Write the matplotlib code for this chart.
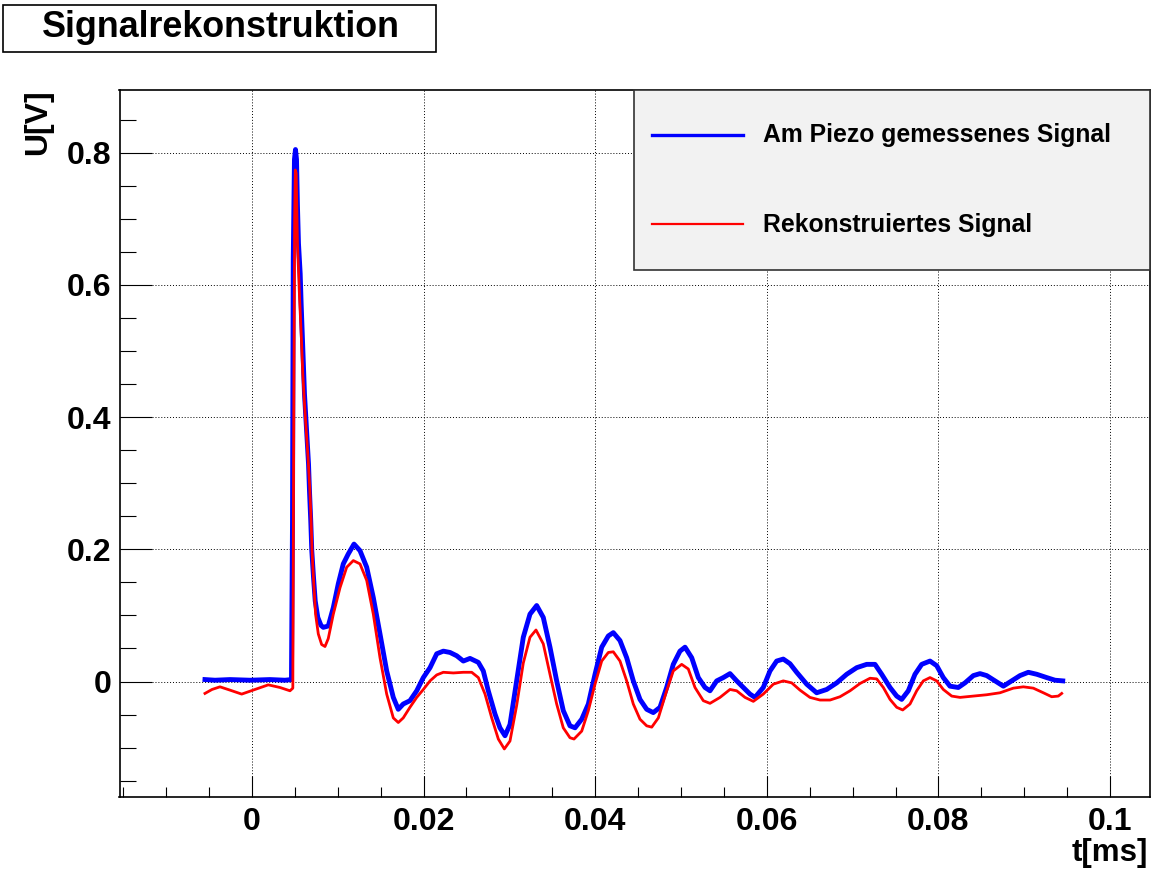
import matplotlib
matplotlib.use("Agg")
import matplotlib.pyplot as plt
from matplotlib.ticker import MultipleLocator, FuncFormatter
from matplotlib.patches import Rectangle
from matplotlib.lines import Line2D

# ---- data (t in ms, U in V) ----
t_meas = [-0.00548, -0.00431, -0.00256, -0.00023, 0.0021, 0.00385, 0.0046,
          0.00472, 0.00481, 0.00495, 0.00507, 0.00519, 0.0053,
          0.00542, 0.00562, 0.00573, 0.00589, 0.0060, 0.00612, 0.00627, 0.00643,
          0.00659, 0.0067, 0.00685, 0.00697, 0.00717, 0.00737, 0.00767, 0.00804,
          0.00831, 0.00889, 0.00948, 0.01006, 0.01064, 0.01122, 0.01189, 0.01259,
          0.01337, 0.01414, 0.01492, 0.0157, 0.01647, 0.01705, 0.01763, 0.01841,
          0.0192, 0.01997, 0.02075, 0.02153, 0.0223, 0.02308, 0.02386, 0.02463,
          0.02541, 0.02638, 0.02696, 0.02754, 0.02832, 0.0289, 0.02949, 0.03007,
          0.03085, 0.03162, 0.0324, 0.03318, 0.03395, 0.03473, 0.03551, 0.03628,
          0.03706, 0.03765, 0.03843, 0.0392, 0.03998, 0.04076, 0.04153, 0.04211,
          0.04289, 0.04367, 0.04444, 0.04522, 0.046, 0.04677, 0.04755, 0.04833,
          0.0491, 0.04988, 0.05047, 0.05125, 0.05202, 0.0528, 0.05338, 0.05416,
          0.05493, 0.05571, 0.05649, 0.05726, 0.05804, 0.05862, 0.05959, 0.06037,
          0.06115, 0.06192, 0.0627, 0.06348, 0.06465, 0.06581, 0.06698, 0.06815,
          0.06931, 0.07048, 0.07164, 0.07261, 0.07339, 0.07436, 0.07514, 0.07572,
          0.07649, 0.07727, 0.07805, 0.07902, 0.0798, 0.08057, 0.08135, 0.08232,
          0.0831, 0.08407, 0.08485, 0.08563, 0.0866, 0.08757, 0.08854, 0.08951,
          0.09048, 0.09146, 0.09262, 0.09359, 0.09449]
u_meas = [0.003, 0.002, 0.003, 0.002, 0.003, 0.002, 0.003,
          0.24, 0.64, 0.79, 0.805, 0.79, 0.72,
          0.663, 0.617, 0.572, 0.516, 0.476, 0.435, 0.400, 0.365,
          0.329, 0.289, 0.243, 0.198, 0.158, 0.122, 0.097, 0.085,
          0.082, 0.084, 0.112, 0.148, 0.178, 0.193, 0.208, 0.198,
          0.173, 0.127, 0.072, 0.016, -0.024, -0.042, -0.034, -0.029,
          -0.014, 0.006, 0.021, 0.042, 0.046, 0.044, 0.039, 0.031,
          0.035, 0.029, 0.016, -0.014, -0.049, -0.070, -0.082, -0.065,
          0.001, 0.067, 0.102, 0.115, 0.097, 0.052, 0.001, -0.044,
          -0.067, -0.070, -0.057, -0.034, 0.011, 0.052, 0.069, 0.074,
          0.062, 0.036, 0.001, -0.027, -0.042, -0.047, -0.039, -0.009,
          0.026, 0.046, 0.052, 0.036, 0.006, -0.009, -0.014, 0.001,
          0.006, 0.012, 0.001, -0.009, -0.019, -0.024, -0.009, 0.016,
          0.031, 0.034, 0.027, 0.014, -0.004, -0.017, -0.012, -0.002,
          0.011, 0.021, 0.026, 0.026, 0.011, -0.009, -0.022, -0.027,
          -0.014, 0.011, 0.026, 0.031, 0.024, 0.006, -0.007, -0.009,
          -0.002, 0.009, 0.012, 0.009, 0.001, -0.007, 0.001, 0.009,
          0.014, 0.011, 0.006, 0.002, 0.001]

t_rec = [-0.00548, -0.00466, -0.00373, -0.00256, -0.0012, 0.00035, 0.0019,
         0.00326, 0.00443, 0.00476, 0.00487, 0.00497, 0.00505, 0.00515, 0.0053,
         0.00554, 0.00577, 0.00592, 0.00612, 0.00632, 0.00653, 0.00673, 0.00688,
         0.0070, 0.0072, 0.00741, 0.00773, 0.00812, 0.00851, 0.00889, 0.00948,
         0.01026, 0.01104, 0.01181, 0.01259, 0.01337, 0.01414, 0.01492, 0.0157,
         0.01647, 0.01705, 0.01763, 0.01841, 0.0192, 0.01997, 0.02075, 0.02153,
         0.0223, 0.02347, 0.02463, 0.02561, 0.02638, 0.02716, 0.02794, 0.02871,
         0.02941, 0.03007, 0.03085, 0.03162, 0.0324, 0.0331, 0.03395, 0.03473,
         0.03551, 0.03628, 0.03706, 0.03753, 0.03843, 0.0392, 0.03998, 0.04076,
         0.04153, 0.04211, 0.04289, 0.04367, 0.04444, 0.04522, 0.046, 0.04659,
         0.04736, 0.04833, 0.0491, 0.05008, 0.05085, 0.05163, 0.0526, 0.05338,
         0.05455, 0.05571, 0.05649, 0.05746, 0.05843, 0.05959, 0.06076, 0.06192,
         0.0629, 0.06387, 0.06503, 0.0662, 0.06737, 0.06853, 0.0697, 0.07086,
         0.07203, 0.07281, 0.07358, 0.07436, 0.07514, 0.07584, 0.07669, 0.07747,
         0.07824, 0.07902, 0.0798, 0.08057, 0.08155, 0.08252, 0.08407, 0.08563,
         0.08718, 0.08873, 0.0899, 0.09106, 0.09223, 0.0932, 0.09397, 0.09437]
u_rec = [-0.018, -0.012, -0.008, -0.013, -0.019, -0.012, -0.005,
         -0.009, -0.014, -0.010, 0.40, 0.70, 0.774, 0.769, 0.663,
         0.582, 0.516, 0.466, 0.420, 0.380, 0.339, 0.294, 0.248,
         0.198, 0.148, 0.102, 0.072, 0.056, 0.053, 0.065, 0.102,
         0.142, 0.173, 0.183, 0.178, 0.153, 0.102, 0.036, -0.019,
         -0.055, -0.062, -0.055, -0.039, -0.024, -0.012, 0.001, 0.010,
         0.014, 0.013, 0.014, 0.014, 0.006, -0.019, -0.055, -0.087,
         -0.102, -0.090, -0.036, 0.028, 0.067, 0.078, 0.057, 0.011,
         -0.034, -0.070, -0.085, -0.087, -0.075, -0.044, -0.004, 0.031,
         0.044, 0.045, 0.031, 0.001, -0.034, -0.057, -0.067, -0.069,
         -0.055, -0.014, 0.016, 0.026, 0.019, -0.009, -0.029, -0.033,
         -0.024, -0.012, -0.014, -0.024, -0.030, -0.019, -0.004, 0.001,
         -0.002, -0.013, -0.024, -0.028, -0.028, -0.023, -0.014, -0.003,
         0.005, 0.004, -0.009, -0.027, -0.039, -0.043, -0.034, -0.014,
         0.001, 0.006, 0.001, -0.012, -0.022, -0.024, -0.022, -0.020,
         -0.017, -0.010, -0.008, -0.010, -0.017, -0.023, -0.022, -0.018]

title = "Signalrekonstruktion"
x_label = "t[ms]"
y_label = "U[V]"
legend_labels = ["Am Piezo gemessenes Signal", "Rekonstruiertes Signal"]
series_colors = ["#0000ff", "#ff0000"]

plt.rcParams['font.family'] = ['Liberation Sans', 'DejaVu Sans']
plt.rcParams['font.weight'] = 'bold'

W, H = 1152, 869
fig = plt.figure(figsize=(W / 100, H / 100), dpi=100)
fig.patch.set_facecolor('white')

ax_l, ax_r, ax_t, ax_b = 119.5, 1150, 89.7, 797
ax = fig.add_axes([ax_l / W, 1 - ax_b / H, (ax_r - ax_l) / W, (ax_b - ax_t) / H])

ax.plot(t_meas, u_meas, color=series_colors[0], lw=3.5, zorder=2,
        solid_joinstyle='round')
ax.plot(t_rec, u_rec, color=series_colors[1], lw=2.0, zorder=3,
        solid_joinstyle='round')

ax.set_xlim(-0.01544, 0.10466)
ax.set_ylim(-0.1747, 0.8955)

ax.xaxis.set_major_locator(MultipleLocator(0.02))
ax.xaxis.set_minor_locator(MultipleLocator(0.005))
ax.yaxis.set_major_locator(MultipleLocator(0.2))
ax.yaxis.set_minor_locator(MultipleLocator(0.05))
fmt = FuncFormatter(lambda v, p: "%g" % round(v, 6))
ax.xaxis.set_major_formatter(fmt)
ax.yaxis.set_major_formatter(fmt)

ax.tick_params(which='both', direction='in', top=False, right=False,
               color='black', width=0.8)
ax.tick_params(axis='y', which='major', length=23, pad=6, labelsize=23)
ax.tick_params(axis='y', which='minor', length=11.5)
ax.tick_params(axis='x', which='major', length=14.8, pad=7, labelsize=23)
ax.tick_params(axis='x', which='minor', length=7.5)
for lab in ax.get_xticklabels() + ax.get_yticklabels():
    lab.set_fontweight('bold')

ax.grid(which='major', color='black', linestyle=(0, (1, 2)), linewidth=0.7)
ax.set_axisbelow(True)
for s in ax.spines.values():
    s.set_linewidth(1.2)
    s.set_color('black')

# legend box (upper right, flush with axes frame)
lx0 = (634 - ax_l) / (ax_r - ax_l)
ly0 = (ax_b - 270) / (ax_b - ax_t)
ax.add_patch(Rectangle((lx0, ly0), 1 - lx0, 1 - ly0, transform=ax.transAxes,
                       facecolor='#f2f2f2', edgecolor='#333333', lw=1.2,
                       zorder=10, clip_on=False))
def fx(px):
    return (px - ax_l) / (ax_r - ax_l)
def fy(py):
    return (ax_b - py) / (ax_b - ax_t)
for lab, col, lw, ly, lby in [(legend_labels[0], series_colors[0], 2.4, 135, 142.2),
                              (legend_labels[1], series_colors[1], 1.6, 224, 231.9)]:
    ax.add_line(Line2D([fx(652), fx(743)], [fy(ly), fy(ly)], color=col, lw=lw,
                       transform=ax.transAxes, zorder=11, clip_on=False))
    ax.text(fx(763), fy(lby), lab, transform=ax.transAxes, fontsize=17.8,
            fontweight='bold', ha='left', va='baseline', zorder=11)

# title box
fig.add_artist(Rectangle((3 / W, 1 - 52 / H), 433 / W, 47 / H,
                         transform=fig.transFigure, facecolor='white',
                         edgecolor='black', lw=1.2))
fig.text(221 / W, 1 - 37.3 / H, title, fontsize=25.8, fontweight='bold',
         ha='center', va='baseline')

# axis labels
fig.text(1148 / W, 1 - 861 / H, x_label, fontsize=22.5, fontweight='bold',
         ha='right', va='baseline')
fig.text(38 / W, 1 - 89 / H, y_label, fontsize=23, fontweight='bold',
         rotation=90, ha='center', va='top')

fig.savefig("out.png", dpi=100)
